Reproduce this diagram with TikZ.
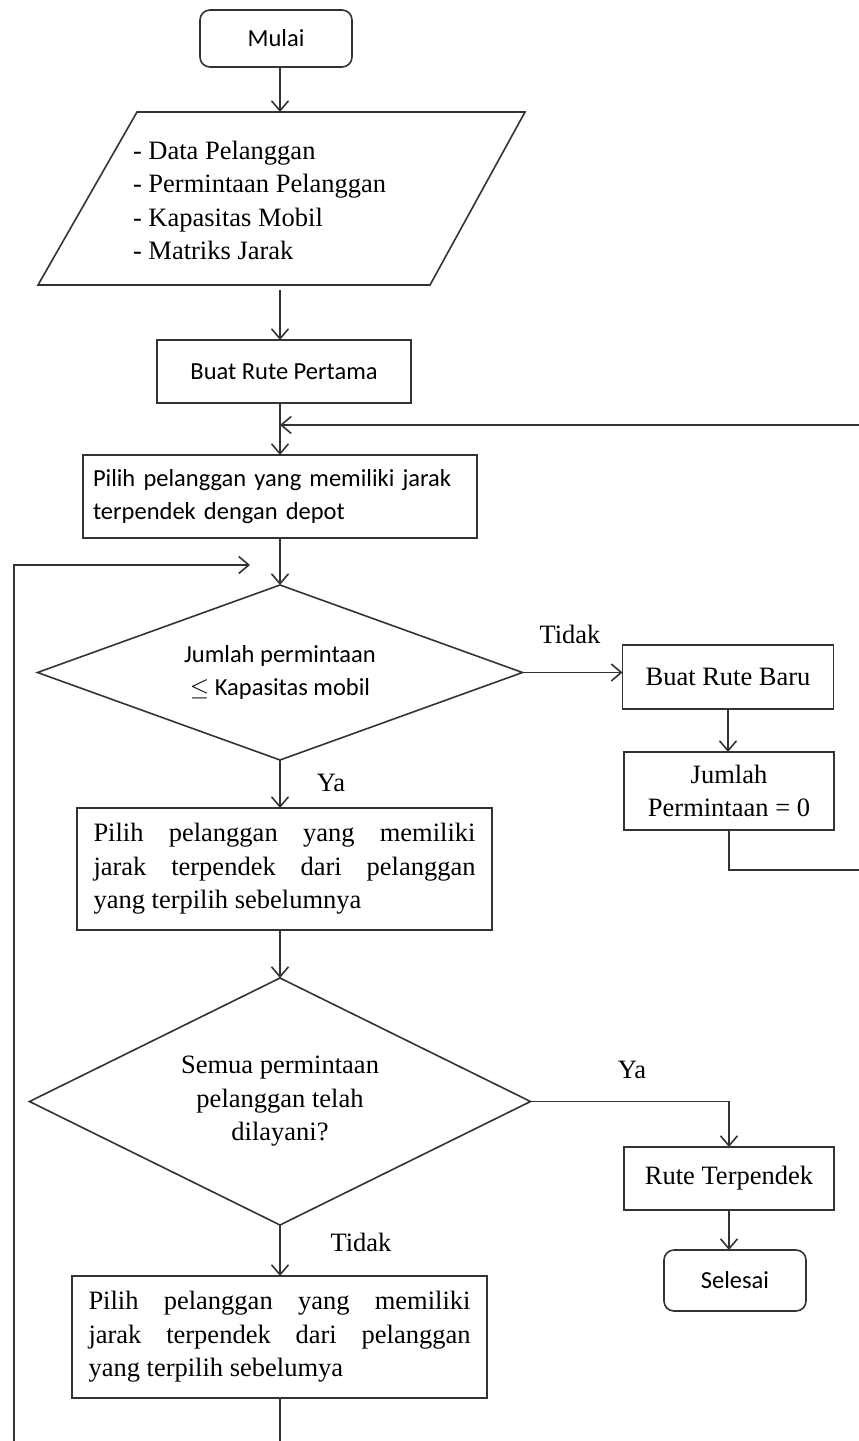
\documentclass[tikz,border=0pt]{standalone}
\usepackage{fontspec}
\setmainfont{Liberation Serif}
\newfontfamily\calfont{Carlito}
\usetikzlibrary{shapes.geometric,arrows.meta}
\begin{document}
\begin{tikzpicture}[x=1pt,y=-1pt,
  line width=1.6pt,
  every node/.style={inner sep=0pt, outer sep=0pt},
  serif/.style={font=\fontsize{26.5}{33.5}\selectfont},
  cal/.style={font=\calfont\fontsize{24.5}{33}\selectfont},
  box/.style={draw=black!80, rectangle},
  term/.style={draw=black!80, rounded corners=10pt},
  dia/.style={draw=black!80, diamond},
  arr/.style={draw=black!80, -{Straight Barb[length=10pt,width=17pt]}},
  conn/.style={draw=black!80}
]
\useasboundingbox (0,0) rectangle (859,1441);

% start
\node[term,cal,minimum width=152pt,minimum height=57pt] (mulai) at (276,38.5) {Mulai};
\coordinate (col) at (280,0);

% input parallelogram
\coordinate (pTL) at (137,112);
\coordinate (pTR) at (525,112);
\coordinate (pBR) at (430,285);
\coordinate (pBL) at (38,285);
\draw[conn] (pTL) -- (pTR) -- (pBR) -- (pBL) -- cycle;
\coordinate (pTop) at (280,112);
\coordinate (pBot) at (280,290);
\node[serif,align=left,anchor=west] (inp) at (133,200.5) {- Data Pelanggan\\- Permintaan Pelanggan\\- Kapasitas Mobil\\- Matriks Jarak};

% process boxes
\node[box,cal,minimum width=254pt,minimum height=63pt] (buat1) at (284,371.5) {Buat Rute Pertama};
\node[box,cal,minimum width=394pt,minimum height=83pt,text width=374pt,align=left] (pilih1) at (280,496.5) {Pilih pelanggan yang memiliki jarak\\terpendek dengan depot};

\node[dia,cal,align=center,minimum width=485pt,minimum height=175pt,aspect=2.77] (dia1) at (280,672.5) {Jumlah permintaan\\$\leq$ Kapasitas mobil};

\node[box,serif,minimum width=211pt,minimum height=64pt] (baru) at (728,677) {Buat Rute Baru};
\node[box,serif,minimum width=210pt,minimum height=78pt,align=center] (jumlah) at (729,791) {Jumlah\\Permintaan = 0};

\node[box,serif,minimum width=415pt,minimum height=122pt,text width=382pt,align=justify] (pilih2) at (284.5,869) {\noindent Pilih pelanggan yang memiliki\linebreak jarak terpendek dari pelanggan\linebreak yang terpilih sebelumnya};

\node[dia,serif,align=center,minimum width=501pt,minimum height=247pt,aspect=2.03] (dia2) at (280,1101.5) {\rule{0pt}{10pt}Semua permintaan\\pelanggan telah\\dilayani?};

\node[box,serif,minimum width=210pt,minimum height=63pt] (rute) at (729,1178.5) {Rute Terpendek};
\node[term,cal,minimum width=142pt,minimum height=61pt] (selesai) at (735,1280.5) {Selesai};

\node[box,serif,minimum width=415pt,minimum height=122pt,text width=382pt,align=justify] (pilih3) at (279.5,1337) {\noindent Pilih pelanggan yang memiliki\linebreak jarak terpendek dari pelanggan\linebreak yang terpilih sebelumya};

% labels
\node[serif] (tidak1) at (570,634) {Tidak};
\node[serif] (ya1) at (331,783) {Ya};
\node[serif] (ya2) at (632,1070) {Ya};
\node[serif] (tidak2) at (361,1242) {Tidak};

% connectors
\draw[arr] (mulai.south -| pTop) -- (pTop);
\draw[arr] (pBot) -- (buat1.north -| pBot);
\draw[arr] (buat1.south -| col) -- (pilih1.north -| col);
\draw[arr] (pilih1.south -| col) -- (dia1.north);
\draw[arr] (dia1.east) -- (dia1.east -| baru.west);
\draw[arr] (baru.south) -- (baru.south |- jumlah.north);
\coordinate (jR) at (864,870);
\coordinate (loopR) at (864,425);
\coordinate (m1) at (280,425);
\draw[arr] (jumlah.south) |- (jR) -- (loopR) -- (m1);
\draw[arr] (dia1.south) -- (pilih2.north -| dia1.south);
\draw[arr] (pilih2.south -| col) -- (dia2.north);
\draw[arr] (dia2.east) -| (rute.north);
\draw[arr] (rute.south) -- (selesai.north -| rute.south);
\draw[arr] (dia2.south) -- (pilih3.north -| dia2.south);
\coordinate (bR) at (280,1452);
\coordinate (bL) at (14,1452);
\coordinate (lTop) at (14,565);
\coordinate (m2) at (250,565);
\draw[arr] (pilih3.south -| col) -- (bR) -- (bL) -- (lTop) -- (m2);
\end{tikzpicture}
\end{document}
